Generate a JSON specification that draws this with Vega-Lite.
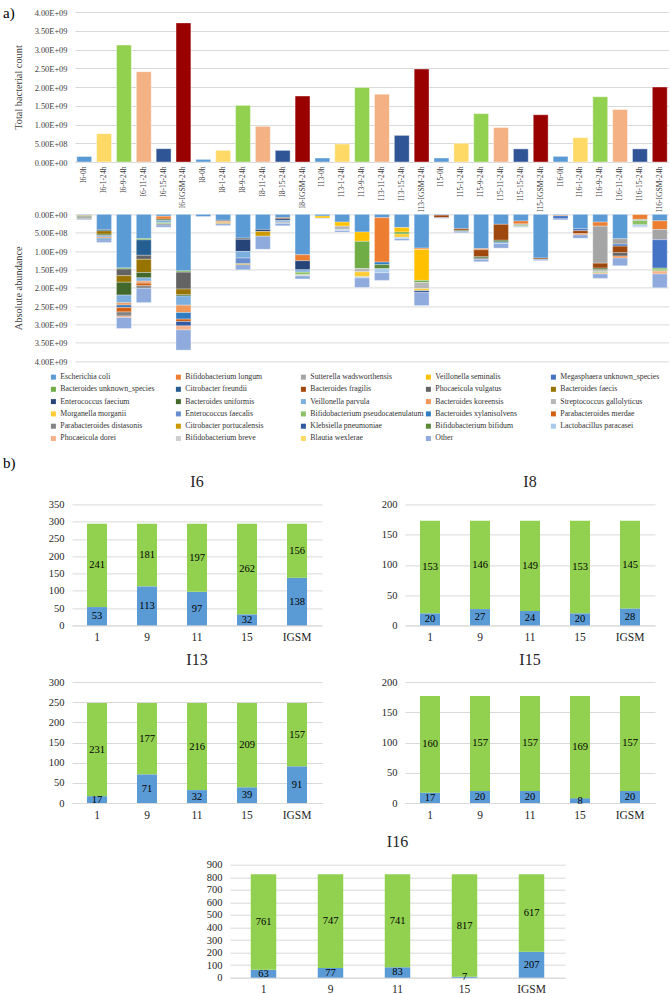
{
"$schema": "https://vega.github.io/schema/vega-lite/v6.json",
"padding": {"left": 3, "top": 6, "right": 0, "bottom": 0},
"background": "white",
"config": {
  "view": {"stroke": null},
  "font": "Liberation Serif",
  "axis": {"labelFont": "Liberation Serif", "titleFont": "Liberation Serif", "gridColor": "#D9D9D9", "domainColor": "#D9D9D9", "labelColor": "#404040", "titleColor": "#404040", "titleFontWeight": "normal", "labelLimit": 400},
  "axisX": {"ticks": false, "grid": false},
  "axisY": {"ticks": false, "domain": false, "labelOverlap": false},
  "title": {"font": "Liberation Serif", "fontWeight": "normal", "color": "#262626"}
},
"datasets": {
  "totals": [
    {"sample": "I6-0h", "cond": "0h", "count": 1.5e8},
    {"sample": "I6-1-24h", "cond": "1", "count": 7.55e8},
    {"sample": "I6-9-24h", "cond": "9", "count": 3.12e9},
    {"sample": "I6-11-24h", "cond": "11", "count": 2.41e9},
    {"sample": "I6-15-24h", "cond": "15", "count": 3.55e8},
    {"sample": "I6-IGSM-24h", "cond": "IGSM", "count": 3.71e9},
    {"sample": "I8-0h", "cond": "0h", "count": 7e7},
    {"sample": "I8-1-24h", "cond": "1", "count": 3.1e8},
    {"sample": "I8-9-24h", "cond": "9", "count": 1.51e9},
    {"sample": "I8-11-24h", "cond": "11", "count": 9.5e8},
    {"sample": "I8-15-24h", "cond": "15", "count": 3.1e8},
    {"sample": "I8-IGSM-24h", "cond": "IGSM", "count": 1.76e9},
    {"sample": "I13-0h", "cond": "0h", "count": 1.07e8},
    {"sample": "I13-1-24h", "cond": "1", "count": 4.8e8},
    {"sample": "I13-9-24h", "cond": "9", "count": 1.99e9},
    {"sample": "I13-11-24h", "cond": "11", "count": 1.81e9},
    {"sample": "I13-15-24h", "cond": "15", "count": 7.1e8},
    {"sample": "I13-IGSM-24h", "cond": "IGSM", "count": 2.48e9},
    {"sample": "I15-0h", "cond": "0h", "count": 1.07e8},
    {"sample": "I15-1-24h", "cond": "1", "count": 5e8},
    {"sample": "I15-9-24h", "cond": "9", "count": 1.29e9},
    {"sample": "I15-11-24h", "cond": "11", "count": 9.2e8},
    {"sample": "I15-15-24h", "cond": "15", "count": 3.5e8},
    {"sample": "I15-IGSM-24h", "cond": "IGSM", "count": 1.26e9},
    {"sample": "I16-0h", "cond": "0h", "count": 1.5e8},
    {"sample": "I16-1-24h", "cond": "1", "count": 6.5e8},
    {"sample": "I16-9-24h", "cond": "9", "count": 1.74e9},
    {"sample": "I16-11-24h", "cond": "11", "count": 1.4e9},
    {"sample": "I16-15-24h", "cond": "15", "count": 3.5e8},
    {"sample": "I16-IGSM-24h", "cond": "IGSM", "count": 2.0e9}
  ],
  "abund": [
    {"sample": "I6-0h", "taxon": "Escherichia coli", "count": 2e7},
    {"sample": "I6-0h", "taxon": "Bifidobacterium longum", "count": 2e7},
    {"sample": "I6-0h", "taxon": "Bacteroides unknown_species", "count": 2e7},
    {"sample": "I6-0h", "taxon": "Phocaeicola vulgatus", "count": 3e7},
    {"sample": "I6-0h", "taxon": "Bacteroides uniformis", "count": 2e7},
    {"sample": "I6-0h", "taxon": "Parabacteroides distasonis", "count": 2e7},
    {"sample": "I6-0h", "taxon": "Other", "count": 2e7},
    {"sample": "I6-1-24h", "taxon": "Escherichia coli", "count": 4.1e8},
    {"sample": "I6-1-24h", "taxon": "Citrobacter freundii", "count": 4e7},
    {"sample": "I6-1-24h", "taxon": "Bacteroides faecis", "count": 9e7},
    {"sample": "I6-1-24h", "taxon": "Bacteroides uniformis", "count": 4e7},
    {"sample": "I6-1-24h", "taxon": "Veillonella parvula", "count": 4e7},
    {"sample": "I6-1-24h", "taxon": "Bacteroides koreensis", "count": 3.5e7},
    {"sample": "I6-1-24h", "taxon": "Bacteroides xylanisolvens", "count": 4e7},
    {"sample": "I6-1-24h", "taxon": "Other", "count": 7e7},
    {"sample": "I6-9-24h", "taxon": "Escherichia coli", "count": 1.46e9},
    {"sample": "I6-9-24h", "taxon": "Bacteroides unknown_species", "count": 3e7},
    {"sample": "I6-9-24h", "taxon": "Phocaeicola vulgatus", "count": 1.8e8},
    {"sample": "I6-9-24h", "taxon": "Bacteroides faecis", "count": 1.8e8},
    {"sample": "I6-9-24h", "taxon": "Bacteroides uniformis", "count": 3.5e8},
    {"sample": "I6-9-24h", "taxon": "Veillonella parvula", "count": 2.1e8},
    {"sample": "I6-9-24h", "taxon": "Bacteroides koreensis", "count": 6e7},
    {"sample": "I6-9-24h", "taxon": "Bacteroides xylanisolvens", "count": 7e7},
    {"sample": "I6-9-24h", "taxon": "Parabacteroides merdae", "count": 1.2e8},
    {"sample": "I6-9-24h", "taxon": "Parabacteroides distasonis", "count": 1.1e8},
    {"sample": "I6-9-24h", "taxon": "Phocaeicola dorei", "count": 4e7},
    {"sample": "I6-9-24h", "taxon": "Other", "count": 3e8},
    {"sample": "I6-11-24h", "taxon": "Escherichia coli", "count": 6.6e8},
    {"sample": "I6-11-24h", "taxon": "Bacteroides unknown_species", "count": 3.5e7},
    {"sample": "I6-11-24h", "taxon": "Citrobacter freundii", "count": 4.2e8},
    {"sample": "I6-11-24h", "taxon": "Phocaeicola vulgatus", "count": 1.1e8},
    {"sample": "I6-11-24h", "taxon": "Bacteroides faecis", "count": 3.6e8},
    {"sample": "I6-11-24h", "taxon": "Bacteroides uniformis", "count": 1.45e8},
    {"sample": "I6-11-24h", "taxon": "Veillonella parvula", "count": 9e7},
    {"sample": "I6-11-24h", "taxon": "Bacteroides koreensis", "count": 5.5e7},
    {"sample": "I6-11-24h", "taxon": "Parabacteroides merdae", "count": 7e7},
    {"sample": "I6-11-24h", "taxon": "Parabacteroides distasonis", "count": 7e7},
    {"sample": "I6-11-24h", "taxon": "Other", "count": 3.9e8},
    {"sample": "I6-15-24h", "taxon": "Escherichia coli", "count": 5e7},
    {"sample": "I6-15-24h", "taxon": "Bifidobacterium longum", "count": 8e7},
    {"sample": "I6-15-24h", "taxon": "Bacteroides uniformis", "count": 4e7},
    {"sample": "I6-15-24h", "taxon": "Veillonella parvula", "count": 6e7},
    {"sample": "I6-15-24h", "taxon": "Bifidobacterium pseudocatenulatum", "count": 3e7},
    {"sample": "I6-15-24h", "taxon": "Parabacteroides distasonis", "count": 3e7},
    {"sample": "I6-15-24h", "taxon": "Other", "count": 6e7},
    {"sample": "I6-IGSM-24h", "taxon": "Escherichia coli", "count": 1.54e9},
    {"sample": "I6-IGSM-24h", "taxon": "Bacteroides unknown_species", "count": 3.5e7},
    {"sample": "I6-IGSM-24h", "taxon": "Phocaeicola vulgatus", "count": 4.6e8},
    {"sample": "I6-IGSM-24h", "taxon": "Bacteroides faecis", "count": 1.55e8},
    {"sample": "I6-IGSM-24h", "taxon": "Bacteroides uniformis", "count": 3.5e7},
    {"sample": "I6-IGSM-24h", "taxon": "Veillonella parvula", "count": 2.5e8},
    {"sample": "I6-IGSM-24h", "taxon": "Bacteroides koreensis", "count": 2e8},
    {"sample": "I6-IGSM-24h", "taxon": "Bacteroides xylanisolvens", "count": 1.8e8},
    {"sample": "I6-IGSM-24h", "taxon": "Parabacteroides merdae", "count": 6.5e7},
    {"sample": "I6-IGSM-24h", "taxon": "Klebsiella pneumoniae", "count": 1.2e8},
    {"sample": "I6-IGSM-24h", "taxon": "Phocaeicola dorei", "count": 1.1e8},
    {"sample": "I6-IGSM-24h", "taxon": "Other", "count": 5.5e8},
    {"sample": "I8-0h", "taxon": "Escherichia coli", "count": 6e7},
    {"sample": "I8-0h", "taxon": "Other", "count": 1e7},
    {"sample": "I8-1-24h", "taxon": "Escherichia coli", "count": 1.6e8},
    {"sample": "I8-1-24h", "taxon": "Phocaeicola vulgatus", "count": 3e7},
    {"sample": "I8-1-24h", "taxon": "Bacteroides koreensis", "count": 3.5e7},
    {"sample": "I8-1-24h", "taxon": "Citrobacter portucalensis", "count": 3e7},
    {"sample": "I8-1-24h", "taxon": "Other", "count": 5e7},
    {"sample": "I8-9-24h", "taxon": "Escherichia coli", "count": 6.45e8},
    {"sample": "I8-9-24h", "taxon": "Phocaeicola vulgatus", "count": 3.5e7},
    {"sample": "I8-9-24h", "taxon": "Enterococcus faecium", "count": 3.3e8},
    {"sample": "I8-9-24h", "taxon": "Veillonella parvula", "count": 1.8e8},
    {"sample": "I8-9-24h", "taxon": "Enterococcus faecalis", "count": 1.55e8},
    {"sample": "I8-9-24h", "taxon": "Citrobacter portucalensis", "count": 3e7},
    {"sample": "I8-9-24h", "taxon": "Other", "count": 1.35e8},
    {"sample": "I8-11-24h", "taxon": "Escherichia coli", "count": 4.1e8},
    {"sample": "I8-11-24h", "taxon": "Enterococcus faecium", "count": 5.5e7},
    {"sample": "I8-11-24h", "taxon": "Citrobacter portucalensis", "count": 1.3e8},
    {"sample": "I8-11-24h", "taxon": "Other", "count": 3.55e8},
    {"sample": "I8-15-24h", "taxon": "Escherichia coli", "count": 9e7},
    {"sample": "I8-15-24h", "taxon": "Bacteroides fragilis", "count": 3e7},
    {"sample": "I8-15-24h", "taxon": "Enterococcus faecium", "count": 4.5e7},
    {"sample": "I8-15-24h", "taxon": "Veillonella parvula", "count": 4.5e7},
    {"sample": "I8-15-24h", "taxon": "Streptococcus gallolyticus", "count": 3.5e7},
    {"sample": "I8-15-24h", "taxon": "Other", "count": 6.5e7},
    {"sample": "I8-IGSM-24h", "taxon": "Escherichia coli", "count": 1.1e9},
    {"sample": "I8-IGSM-24h", "taxon": "Bifidobacterium longum", "count": 1.65e8},
    {"sample": "I8-IGSM-24h", "taxon": "Enterococcus faecium", "count": 2.45e8},
    {"sample": "I8-IGSM-24h", "taxon": "Veillonella parvula", "count": 6.5e7},
    {"sample": "I8-IGSM-24h", "taxon": "Bifidobacterium pseudocatenulatum", "count": 7e7},
    {"sample": "I8-IGSM-24h", "taxon": "Bifidobacterium breve", "count": 3.5e7},
    {"sample": "I8-IGSM-24h", "taxon": "Other", "count": 8e7},
    {"sample": "I13-0h", "taxon": "Escherichia coli", "count": 4.5e7},
    {"sample": "I13-0h", "taxon": "Veillonella seminalis", "count": 5.5e7},
    {"sample": "I13-0h", "taxon": "Other", "count": 1e7},
    {"sample": "I13-1-24h", "taxon": "Escherichia coli", "count": 2.1e8},
    {"sample": "I13-1-24h", "taxon": "Veillonella seminalis", "count": 1.1e8},
    {"sample": "I13-1-24h", "taxon": "Streptococcus gallolyticus", "count": 9e7},
    {"sample": "I13-1-24h", "taxon": "Lactobacillus paracasei", "count": 3e7},
    {"sample": "I13-1-24h", "taxon": "Other", "count": 4e7},
    {"sample": "I13-9-24h", "taxon": "Escherichia coli", "count": 4.8e8},
    {"sample": "I13-9-24h", "taxon": "Veillonella seminalis", "count": 2.55e8},
    {"sample": "I13-9-24h", "taxon": "Bacteroides unknown_species", "count": 7.4e8},
    {"sample": "I13-9-24h", "taxon": "Streptococcus gallolyticus", "count": 9e7},
    {"sample": "I13-9-24h", "taxon": "Morganella morganii", "count": 1.35e8},
    {"sample": "I13-9-24h", "taxon": "Lactobacillus paracasei", "count": 3.5e7},
    {"sample": "I13-9-24h", "taxon": "Other", "count": 2.55e8},
    {"sample": "I13-11-24h", "taxon": "Escherichia coli", "count": 9e7},
    {"sample": "I13-11-24h", "taxon": "Bifidobacterium longum", "count": 1.21e9},
    {"sample": "I13-11-24h", "taxon": "Bacteroides xylanisolvens", "count": 7e7},
    {"sample": "I13-11-24h", "taxon": "Bifidobacterium bifidum", "count": 1.1e8},
    {"sample": "I13-11-24h", "taxon": "Lactobacillus paracasei", "count": 1.1e8},
    {"sample": "I13-11-24h", "taxon": "Other", "count": 2.1e8},
    {"sample": "I13-15-24h", "taxon": "Escherichia coli", "count": 3.6e8},
    {"sample": "I13-15-24h", "taxon": "Veillonella seminalis", "count": 1.2e8},
    {"sample": "I13-15-24h", "taxon": "Bacteroides unknown_species", "count": 5.5e7},
    {"sample": "I13-15-24h", "taxon": "Morganella morganii", "count": 9e7},
    {"sample": "I13-15-24h", "taxon": "Lactobacillus paracasei", "count": 3.5e7},
    {"sample": "I13-15-24h", "taxon": "Other", "count": 5e7},
    {"sample": "I13-IGSM-24h", "taxon": "Escherichia coli", "count": 9.2e8},
    {"sample": "I13-IGSM-24h", "taxon": "Bifidobacterium longum", "count": 3.5e7},
    {"sample": "I13-IGSM-24h", "taxon": "Veillonella seminalis", "count": 8.45e8},
    {"sample": "I13-IGSM-24h", "taxon": "Bacteroides unknown_species", "count": 5.5e7},
    {"sample": "I13-IGSM-24h", "taxon": "Streptococcus gallolyticus", "count": 1.7e8},
    {"sample": "I13-IGSM-24h", "taxon": "Morganella morganii", "count": 5.5e7},
    {"sample": "I13-IGSM-24h", "taxon": "Klebsiella pneumoniae", "count": 5.5e7},
    {"sample": "I13-IGSM-24h", "taxon": "Other", "count": 3.5e8},
    {"sample": "I15-0h", "taxon": "Escherichia coli", "count": 2e7},
    {"sample": "I15-0h", "taxon": "Bacteroides fragilis", "count": 7e7},
    {"sample": "I15-0h", "taxon": "Other", "count": 1.7e7},
    {"sample": "I15-1-24h", "taxon": "Escherichia coli", "count": 3.9e8},
    {"sample": "I15-1-24h", "taxon": "Bacteroides fragilis", "count": 4.5e7},
    {"sample": "I15-1-24h", "taxon": "Bacteroides uniformis", "count": 2.5e7},
    {"sample": "I15-1-24h", "taxon": "Other", "count": 4e7},
    {"sample": "I15-9-24h", "taxon": "Escherichia coli", "count": 9.35e8},
    {"sample": "I15-9-24h", "taxon": "Bifidobacterium longum", "count": 3e7},
    {"sample": "I15-9-24h", "taxon": "Bacteroides fragilis", "count": 1.9e8},
    {"sample": "I15-9-24h", "taxon": "Bacteroides uniformis", "count": 3.5e7},
    {"sample": "I15-9-24h", "taxon": "Parabacteroides distasonis", "count": 3.5e7},
    {"sample": "I15-9-24h", "taxon": "Other", "count": 6.5e7},
    {"sample": "I15-11-24h", "taxon": "Escherichia coli", "count": 2.7e8},
    {"sample": "I15-11-24h", "taxon": "Bacteroides fragilis", "count": 4.35e8},
    {"sample": "I15-11-24h", "taxon": "Bacteroides uniformis", "count": 4.5e7},
    {"sample": "I15-11-24h", "taxon": "Veillonella parvula", "count": 4.5e7},
    {"sample": "I15-11-24h", "taxon": "Other", "count": 1.25e8},
    {"sample": "I15-15-24h", "taxon": "Escherichia coli", "count": 1.8e8},
    {"sample": "I15-15-24h", "taxon": "Bifidobacterium longum", "count": 8e7},
    {"sample": "I15-15-24h", "taxon": "Streptococcus gallolyticus", "count": 3.5e7},
    {"sample": "I15-15-24h", "taxon": "Bifidobacterium pseudocatenulatum", "count": 3.5e7},
    {"sample": "I15-15-24h", "taxon": "Other", "count": 2e7},
    {"sample": "I15-IGSM-24h", "taxon": "Escherichia coli", "count": 1.19e9},
    {"sample": "I15-IGSM-24h", "taxon": "Bacteroides fragilis", "count": 3.5e7},
    {"sample": "I15-IGSM-24h", "taxon": "Other", "count": 3.5e7},
    {"sample": "I16-0h", "taxon": "Escherichia coli", "count": 2e7},
    {"sample": "I16-0h", "taxon": "Bifidobacterium longum", "count": 2e7},
    {"sample": "I16-0h", "taxon": "Megasphaera unknown_species", "count": 8e7},
    {"sample": "I16-0h", "taxon": "Other", "count": 3e7},
    {"sample": "I16-1-24h", "taxon": "Escherichia coli", "count": 3.9e8},
    {"sample": "I16-1-24h", "taxon": "Megasphaera unknown_species", "count": 5.5e7},
    {"sample": "I16-1-24h", "taxon": "Bacteroides fragilis", "count": 8e7},
    {"sample": "I16-1-24h", "taxon": "Bacteroides koreensis", "count": 3.5e7},
    {"sample": "I16-1-24h", "taxon": "Other", "count": 9e7},
    {"sample": "I16-9-24h", "taxon": "Escherichia coli", "count": 2.1e8},
    {"sample": "I16-9-24h", "taxon": "Bifidobacterium longum", "count": 1.1e8},
    {"sample": "I16-9-24h", "taxon": "Sutterella wadsworthensis", "count": 1.01e9},
    {"sample": "I16-9-24h", "taxon": "Bacteroides fragilis", "count": 1.35e8},
    {"sample": "I16-9-24h", "taxon": "Bacteroides uniformis", "count": 4.5e7},
    {"sample": "I16-9-24h", "taxon": "Streptococcus gallolyticus", "count": 5.5e7},
    {"sample": "I16-9-24h", "taxon": "Bifidobacterium pseudocatenulatum", "count": 3e7},
    {"sample": "I16-9-24h", "taxon": "Phocaeicola dorei", "count": 3e7},
    {"sample": "I16-9-24h", "taxon": "Other", "count": 1.2e8},
    {"sample": "I16-11-24h", "taxon": "Escherichia coli", "count": 6.65e8},
    {"sample": "I16-11-24h", "taxon": "Sutterella wadsworthensis", "count": 1.45e8},
    {"sample": "I16-11-24h", "taxon": "Megasphaera unknown_species", "count": 5.5e7},
    {"sample": "I16-11-24h", "taxon": "Bacteroides fragilis", "count": 1.8e8},
    {"sample": "I16-11-24h", "taxon": "Phocaeicola vulgatus", "count": 9e7},
    {"sample": "I16-11-24h", "taxon": "Bacteroides koreensis", "count": 5.5e7},
    {"sample": "I16-11-24h", "taxon": "Other", "count": 2.1e8},
    {"sample": "I16-15-24h", "taxon": "Escherichia coli", "count": 5e6},
    {"sample": "I16-15-24h", "taxon": "Bifidobacterium longum", "count": 1.3e8},
    {"sample": "I16-15-24h", "taxon": "Sutterella wadsworthensis", "count": 3e7},
    {"sample": "I16-15-24h", "taxon": "Bifidobacterium pseudocatenulatum", "count": 1.2e8},
    {"sample": "I16-15-24h", "taxon": "Lactobacillus paracasei", "count": 4.5e7},
    {"sample": "I16-15-24h", "taxon": "Other", "count": 2e7},
    {"sample": "I16-IGSM-24h", "taxon": "Escherichia coli", "count": 1.75e8},
    {"sample": "I16-IGSM-24h", "taxon": "Bifidobacterium longum", "count": 2.35e8},
    {"sample": "I16-IGSM-24h", "taxon": "Sutterella wadsworthensis", "count": 2.8e8},
    {"sample": "I16-IGSM-24h", "taxon": "Megasphaera unknown_species", "count": 7.75e8},
    {"sample": "I16-IGSM-24h", "taxon": "Bacteroides unknown_species", "count": 4.5e7},
    {"sample": "I16-IGSM-24h", "taxon": "Bifidobacterium pseudocatenulatum", "count": 3.5e7},
    {"sample": "I16-IGSM-24h", "taxon": "Phocaeicola dorei", "count": 8e7},
    {"sample": "I16-IGSM-24h", "taxon": "Other", "count": 3.75e8}
  ],
  "panels": [
    {"ind": "I6", "cond": "1", "series": "Series1", "n": 53}, {"ind": "I6", "cond": "1", "series": "Series2", "n": 241},
    {"ind": "I6", "cond": "9", "series": "Series1", "n": 113}, {"ind": "I6", "cond": "9", "series": "Series2", "n": 181},
    {"ind": "I6", "cond": "11", "series": "Series1", "n": 97}, {"ind": "I6", "cond": "11", "series": "Series2", "n": 197},
    {"ind": "I6", "cond": "15", "series": "Series1", "n": 32}, {"ind": "I6", "cond": "15", "series": "Series2", "n": 262},
    {"ind": "I6", "cond": "IGSM", "series": "Series1", "n": 138}, {"ind": "I6", "cond": "IGSM", "series": "Series2", "n": 156},
    {"ind": "I8", "cond": "1", "series": "Series1", "n": 20}, {"ind": "I8", "cond": "1", "series": "Series2", "n": 153},
    {"ind": "I8", "cond": "9", "series": "Series1", "n": 27}, {"ind": "I8", "cond": "9", "series": "Series2", "n": 146},
    {"ind": "I8", "cond": "11", "series": "Series1", "n": 24}, {"ind": "I8", "cond": "11", "series": "Series2", "n": 149},
    {"ind": "I8", "cond": "15", "series": "Series1", "n": 20}, {"ind": "I8", "cond": "15", "series": "Series2", "n": 153},
    {"ind": "I8", "cond": "IGSM", "series": "Series1", "n": 28}, {"ind": "I8", "cond": "IGSM", "series": "Series2", "n": 145},
    {"ind": "I13", "cond": "1", "series": "Series1", "n": 17}, {"ind": "I13", "cond": "1", "series": "Series2", "n": 231},
    {"ind": "I13", "cond": "9", "series": "Series1", "n": 71}, {"ind": "I13", "cond": "9", "series": "Series2", "n": 177},
    {"ind": "I13", "cond": "11", "series": "Series1", "n": 32}, {"ind": "I13", "cond": "11", "series": "Series2", "n": 216},
    {"ind": "I13", "cond": "15", "series": "Series1", "n": 39}, {"ind": "I13", "cond": "15", "series": "Series2", "n": 209},
    {"ind": "I13", "cond": "IGSM", "series": "Series1", "n": 91}, {"ind": "I13", "cond": "IGSM", "series": "Series2", "n": 157},
    {"ind": "I15", "cond": "1", "series": "Series1", "n": 17}, {"ind": "I15", "cond": "1", "series": "Series2", "n": 160},
    {"ind": "I15", "cond": "9", "series": "Series1", "n": 20}, {"ind": "I15", "cond": "9", "series": "Series2", "n": 157},
    {"ind": "I15", "cond": "11", "series": "Series1", "n": 20}, {"ind": "I15", "cond": "11", "series": "Series2", "n": 157},
    {"ind": "I15", "cond": "15", "series": "Series1", "n": 8}, {"ind": "I15", "cond": "15", "series": "Series2", "n": 169},
    {"ind": "I15", "cond": "IGSM", "series": "Series1", "n": 20}, {"ind": "I15", "cond": "IGSM", "series": "Series2", "n": 157},
    {"ind": "I16", "cond": "1", "series": "Series1", "n": 63}, {"ind": "I16", "cond": "1", "series": "Series2", "n": 761},
    {"ind": "I16", "cond": "9", "series": "Series1", "n": 77}, {"ind": "I16", "cond": "9", "series": "Series2", "n": 747},
    {"ind": "I16", "cond": "11", "series": "Series1", "n": 83}, {"ind": "I16", "cond": "11", "series": "Series2", "n": 741},
    {"ind": "I16", "cond": "15", "series": "Series1", "n": 7}, {"ind": "I16", "cond": "15", "series": "Series2", "n": 817},
    {"ind": "I16", "cond": "IGSM", "series": "Series1", "n": 207}, {"ind": "I16", "cond": "IGSM", "series": "Series2", "n": 617}
  ]
},
"bounds": "flush",
"spacing": 492.4,
"resolve": {"scale": {"color": "independent", "x": "independent", "y": "independent"}, "legend": {"color": "independent"}},
"vconcat": [
  {
    "bounds": "flush", "spacing": 0,
    "resolve": {"scale": {"color": "independent", "x": "independent", "y": "independent"}, "legend": {"color": "independent"}},
    "hconcat": [
      {"width": 3, "height": 1, "data": {"values": []}, "mark": {"type": "point", "opacity": 0}},
      {
        "bounds": "flush", "spacing": 52.4,
        "resolve": {"scale": {"color": "independent", "x": "independent", "y": "independent"}, "legend": {"color": "independent"}},
        "vconcat": [
          {
            "width": 594, "height": 150,
            "title": {"text": "a)", "anchor": "start", "frame": "group", "dx": -72, "offset": -13, "fontSize": 15, "color": "black"},
            "data": {"name": "totals"},
            "mark": {"type": "bar", "stroke": "white", "strokeWidth": 0.4},
            "encoding": {
              "x": {"field": "sample", "type": "nominal", "sort": null, "scale": {"paddingInner": 0.25, "paddingOuter": 0.09},
                    "axis": {"title": null, "labelAngle": -90, "labelFontSize": 7.6, "labelPadding": 4, "labelColor": "#404040"}},
              "y": {"field": "count", "type": "quantitative", "scale": {"domain": [0, 4e9]},
                    "axis": {"values": [0, 5e8, 1e9, 1.5e9, 2e9, 2.5e9, 3e9, 3.5e9, 4e9], "labelFontSize": 8.4, "labelPadding": 8,
                             "labelExpr": "datum.value == 0 ? '0.00E+00' : (datum.value < 1e9 ? format(datum.value/1e8, '.2f') + 'E+08' : format(datum.value/1e9, '.2f') + 'E+09')",
                             "title": "Total bacterial count", "titleFontSize": 10.3, "titlePadding": 11}},
              "color": {"field": "cond", "type": "nominal",
                        "scale": {"domain": ["0h", "1", "9", "11", "15", "IGSM"], "range": ["#5B9BD5", "#FFD966", "#92D050", "#F4B183", "#2F5597", "#990000"]},
                        "legend": null}
            }
          },
          {
            "width": 594, "height": 146.7,
            "data": {"name": "abund"},
            "transform": [{"calculate": "indexof(['Escherichia coli', 'Bifidobacterium longum', 'Sutterella wadsworthensis', 'Veillonella seminalis', 'Megasphaera unknown_species', 'Bacteroides unknown_species', 'Citrobacter freundii', 'Bacteroides fragilis', 'Phocaeicola vulgatus', 'Bacteroides faecis', 'Enterococcus faecium', 'Bacteroides uniformis', 'Veillonella parvula', 'Bacteroides koreensis', 'Streptococcus gallolyticus', 'Morganella morganii', 'Enterococcus faecalis', 'Bifidobacterium pseudocatenulatum', 'Bacteroides xylanisolvens', 'Parabacteroides merdae', 'Parabacteroides distasonis', 'Citrobacter portucalensis', 'Klebsiella pneumoniae', 'Bifidobacterium bifidum', 'Lactobacillus paracasei', 'Phocaeicola dorei', 'Bifidobacterium breve', 'Blautia wexlerae', 'Other'], datum.taxon)", "as": "rank"}],
            "mark": {"type": "bar", "stroke": "white", "strokeWidth": 0.3},
            "encoding": {
              "x": {"field": "sample", "type": "nominal", "sort": null, "scale": {"paddingInner": 0.25, "paddingOuter": 0.09}, "axis": null},
              "y": {"field": "count", "type": "quantitative", "stack": "zero", "scale": {"domain": [0, 4e9], "reverse": true},
                    "axis": {"values": [0, 5e8, 1e9, 1.5e9, 2e9, 2.5e9, 3e9, 3.5e9, 4e9], "labelFontSize": 8.4, "labelPadding": 8,
                             "labelExpr": "datum.value == 0 ? '0.00E+00' : (datum.value < 1e9 ? format(datum.value/1e8, '.2f') + 'E+08' : format(datum.value/1e9, '.2f') + 'E+09')",
                             "title": "Absolute abundance", "titleFontSize": 10.3, "titlePadding": 11}},
              "order": {"field": "rank", "type": "quantitative", "sort": "ascending"},
              "color": {"field": "taxon", "type": "nominal",
                        "scale": {"domain": ["Escherichia coli", "Bacteroides unknown_species", "Enterococcus faecium", "Morganella morganii", "Parabacteroides distasonis", "Phocaeicola dorei",
                                             "Bifidobacterium longum", "Citrobacter freundii", "Bacteroides uniformis", "Enterococcus faecalis", "Citrobacter portucalensis", "Bifidobacterium breve",
                                             "Sutterella wadsworthensis", "Bacteroides fragilis", "Veillonella parvula", "Bifidobacterium pseudocatenulatum", "Klebsiella pneumoniae", "Blautia wexlerae",
                                             "Veillonella seminalis", "Phocaeicola vulgatus", "Bacteroides koreensis", "Bacteroides xylanisolvens", "Bifidobacterium bifidum", "Other",
                                             "Megasphaera unknown_species", "Bacteroides faecis", "Streptococcus gallolyticus", "Parabacteroides merdae", "Lactobacillus paracasei"],
                                  "range": ["#5B9BD5", "#70AD47", "#264478", "#FFCD33", "#848484", "#F6B08A",
                                            "#ED7D31", "#255E91", "#43682B", "#698ED0", "#CC9A00", "#CFCFCF",
                                            "#A5A5A5", "#9E480E", "#7CAFDD", "#8CC168", "#335AA1", "#FFD966",
                                            "#FFC000", "#636363", "#F1975A", "#327DC2", "#5A8A39", "#8FAADC",
                                            "#4472C4", "#997300", "#B7B7B7", "#D26012", "#A9CCEC"]},
                        "legend": {"orient": "none", "legendX": -25.5, "legendY": 158.7, "columns": 5, "title": null, "symbolType": "square", "symbolSize": 25, "symbolStrokeWidth": 0,
                                   "labelFont": "Liberation Serif", "labelFontSize": 7.8, "labelColor": "#333333", "labelOffset": 3, "columnPadding": -0.5, "rowPadding": 3.3, "gridAlign": "all", "labelLimit": 300}}
            }
          }
        ]
      }
    ]
  },
  {
    "bounds": "flush", "spacing": 177.6,
    "resolve": {"scale": {"x": "independent", "y": "independent"}},
    "title": {"text": "b)", "anchor": "start", "frame": "group", "dx": -69, "offset": 3, "fontSize": 15, "color": "black"},
    "vconcat": [
      {
        "bounds": "flush", "spacing": 83,
        "resolve": {"scale": {"x": "independent", "y": "independent"}},
        "hconcat": [
          {
            "width": 250, "height": 121,
            "title": {"text": "I6", "fontSize": 16, "offset": 9.5},
            "data": {"name": "panels"},
            "transform": [{"filter": "datum.ind == 'I6'"}],
            "encoding": {"x": {"field": "cond", "type": "nominal", "sort": ["1", "9", "11", "15", "IGSM"], "scale": {"paddingInner": 0.6, "paddingOuter": 0.3},
                               "axis": {"title": null, "labelAngle": 0, "labelFontSize": 11.5, "labelPadding": 6, "labelColor": "#262626"}}},
            "layer": [
              {"mark": {"type": "bar"},
               "encoding": {"y": {"field": "n", "type": "quantitative", "stack": "zero", "scale": {"domain": [0, 350]},
                                  "axis": {"values": [0, 50, 100, 150, 200, 250, 300, 350], "title": null, "labelFontSize": 10.5, "labelPadding": 8, "labelColor": "#262626"}},
                            "order": {"field": "series", "type": "ordinal", "sort": "ascending"},
                            "color": {"field": "series", "type": "nominal", "scale": {"domain": ["Series1", "Series2"], "range": ["#5B9BD5", "#92D050"]}, "legend": null}}},
              {"transform": [{"stack": "n", "groupby": ["cond"], "sort": [{"field": "series"}], "as": ["y0", "y1"]}, {"calculate": "(datum.y0 + datum.y1) / 2", "as": "mid"}],
               "mark": {"type": "text", "fontSize": 10.5, "color": "#000000"},
               "encoding": {"y": {"field": "mid", "type": "quantitative", "axis": {"values": [0, 50, 100, 150, 200, 250, 300, 350], "title": null, "labelFontSize": 10.5, "labelPadding": 8, "labelColor": "#262626"}}, "text": {"field": "n", "type": "quantitative"}}}
            ]
          },
          {
            "width": 250, "height": 121,
            "title": {"text": "I8", "fontSize": 16, "offset": 9.5},
            "data": {"name": "panels"},
            "transform": [{"filter": "datum.ind == 'I8'"}],
            "encoding": {"x": {"field": "cond", "type": "nominal", "sort": ["1", "9", "11", "15", "IGSM"], "scale": {"paddingInner": 0.6, "paddingOuter": 0.3},
                               "axis": {"title": null, "labelAngle": 0, "labelFontSize": 11.5, "labelPadding": 6, "labelColor": "#262626"}}},
            "layer": [
              {"mark": {"type": "bar"},
               "encoding": {"y": {"field": "n", "type": "quantitative", "stack": "zero", "scale": {"domain": [0, 200]},
                                  "axis": {"values": [0, 50, 100, 150, 200], "title": null, "labelFontSize": 10.5, "labelPadding": 8, "labelColor": "#262626"}},
                            "order": {"field": "series", "type": "ordinal", "sort": "ascending"},
                            "color": {"field": "series", "type": "nominal", "scale": {"domain": ["Series1", "Series2"], "range": ["#5B9BD5", "#92D050"]}, "legend": null}}},
              {"transform": [{"stack": "n", "groupby": ["cond"], "sort": [{"field": "series"}], "as": ["y0", "y1"]}, {"calculate": "(datum.y0 + datum.y1) / 2", "as": "mid"}],
               "mark": {"type": "text", "fontSize": 10.5, "color": "#000000"},
               "encoding": {"y": {"field": "mid", "type": "quantitative", "axis": {"values": [0, 50, 100, 150, 200], "title": null, "labelFontSize": 10.5, "labelPadding": 8, "labelColor": "#262626"}}, "text": {"field": "n", "type": "quantitative"}}}
            ]
          }
        ]
      },
      {
        "bounds": "flush", "spacing": 182.7,
        "resolve": {"scale": {"x": "independent", "y": "independent"}},
        "vconcat": [
          {
            "bounds": "flush", "spacing": 83,
            "resolve": {"scale": {"x": "independent", "y": "independent"}},
            "hconcat": [
              {
                "width": 250, "height": 121,
                "title": {"text": "I13", "fontSize": 16, "offset": 9.5},
                "data": {"name": "panels"},
                "transform": [{"filter": "datum.ind == 'I13'"}],
                "encoding": {"x": {"field": "cond", "type": "nominal", "sort": ["1", "9", "11", "15", "IGSM"], "scale": {"paddingInner": 0.6, "paddingOuter": 0.3},
                                   "axis": {"title": null, "labelAngle": 0, "labelFontSize": 11.5, "labelPadding": 6, "labelColor": "#262626"}}},
                "layer": [
                  {"mark": {"type": "bar"},
                   "encoding": {"y": {"field": "n", "type": "quantitative", "stack": "zero", "scale": {"domain": [0, 300]},
                                      "axis": {"values": [0, 50, 100, 150, 200, 250, 300], "title": null, "labelFontSize": 10.5, "labelPadding": 8, "labelColor": "#262626"}},
                                "order": {"field": "series", "type": "ordinal", "sort": "ascending"},
                                "color": {"field": "series", "type": "nominal", "scale": {"domain": ["Series1", "Series2"], "range": ["#5B9BD5", "#92D050"]}, "legend": null}}},
                  {"transform": [{"stack": "n", "groupby": ["cond"], "sort": [{"field": "series"}], "as": ["y0", "y1"]}, {"calculate": "(datum.y0 + datum.y1) / 2", "as": "mid"}],
                   "mark": {"type": "text", "fontSize": 10.5, "color": "#000000"},
                   "encoding": {"y": {"field": "mid", "type": "quantitative", "axis": {"values": [0, 50, 100, 150, 200, 250, 300], "title": null, "labelFontSize": 10.5, "labelPadding": 8, "labelColor": "#262626"}}, "text": {"field": "n", "type": "quantitative"}}}
                ]
              },
              {
                "width": 250, "height": 121,
                "title": {"text": "I15", "fontSize": 16, "offset": 9.5},
                "data": {"name": "panels"},
                "transform": [{"filter": "datum.ind == 'I15'"}],
                "encoding": {"x": {"field": "cond", "type": "nominal", "sort": ["1", "9", "11", "15", "IGSM"], "scale": {"paddingInner": 0.6, "paddingOuter": 0.3},
                                   "axis": {"title": null, "labelAngle": 0, "labelFontSize": 11.5, "labelPadding": 6, "labelColor": "#262626"}}},
                "layer": [
                  {"mark": {"type": "bar"},
                   "encoding": {"y": {"field": "n", "type": "quantitative", "stack": "zero", "scale": {"domain": [0, 200]},
                                      "axis": {"values": [0, 50, 100, 150, 200], "title": null, "labelFontSize": 10.5, "labelPadding": 8, "labelColor": "#262626"}},
                                "order": {"field": "series", "type": "ordinal", "sort": "ascending"},
                                "color": {"field": "series", "type": "nominal", "scale": {"domain": ["Series1", "Series2"], "range": ["#5B9BD5", "#92D050"]}, "legend": null}}},
                  {"transform": [{"stack": "n", "groupby": ["cond"], "sort": [{"field": "series"}], "as": ["y0", "y1"]}, {"calculate": "(datum.y0 + datum.y1) / 2", "as": "mid"}],
                   "mark": {"type": "text", "fontSize": 10.5, "color": "#000000"},
                   "encoding": {"y": {"field": "mid", "type": "quantitative", "axis": {"values": [0, 50, 100, 150, 200], "title": null, "labelFontSize": 10.5, "labelPadding": 8, "labelColor": "#262626"}}, "text": {"field": "n", "type": "quantitative"}}}
                ]
              }
            ]
          },
          {
            "bounds": "flush", "spacing": 0,
            "resolve": {"scale": {"x": "independent", "y": "independent"}},
            "hconcat": [
              {"width": 157.6, "height": 1, "data": {"values": []}, "mark": {"type": "point", "opacity": 0}},
              {
                "width": 335, "height": 113,
                "title": {"text": "I16", "fontSize": 16, "offset": 9.5},
                "data": {"name": "panels"},
                "transform": [{"filter": "datum.ind == 'I16'"}],
                "encoding": {"x": {"field": "cond", "type": "nominal", "sort": ["1", "9", "11", "15", "IGSM"], "scale": {"paddingInner": 0.62, "paddingOuter": 0.31},
                                   "axis": {"title": null, "labelAngle": 0, "labelFontSize": 11.5, "labelPadding": 6, "labelColor": "#262626"}}},
                "layer": [
                  {"mark": {"type": "bar"},
                   "encoding": {"y": {"field": "n", "type": "quantitative", "stack": "zero", "scale": {"domain": [0, 900]},
                                      "axis": {"values": [0, 100, 200, 300, 400, 500, 600, 700, 800, 900], "title": null, "labelFontSize": 10.5, "labelPadding": 8, "labelColor": "#262626"}},
                                "order": {"field": "series", "type": "ordinal", "sort": "ascending"},
                                "color": {"field": "series", "type": "nominal", "scale": {"domain": ["Series1", "Series2"], "range": ["#5B9BD5", "#92D050"]}, "legend": null}}},
                  {"transform": [{"stack": "n", "groupby": ["cond"], "sort": [{"field": "series"}], "as": ["y0", "y1"]}, {"calculate": "(datum.y0 + datum.y1) / 2", "as": "mid"}],
                   "mark": {"type": "text", "fontSize": 10.5, "color": "#000000"},
                   "encoding": {"y": {"field": "mid", "type": "quantitative", "axis": {"values": [0, 100, 200, 300, 400, 500, 600, 700, 800, 900], "title": null, "labelFontSize": 10.5, "labelPadding": 8, "labelColor": "#262626"}}, "text": {"field": "n", "type": "quantitative"}}}
                ]
              }
            ]
          }
        ]
      }
    ]
  }
]
}
